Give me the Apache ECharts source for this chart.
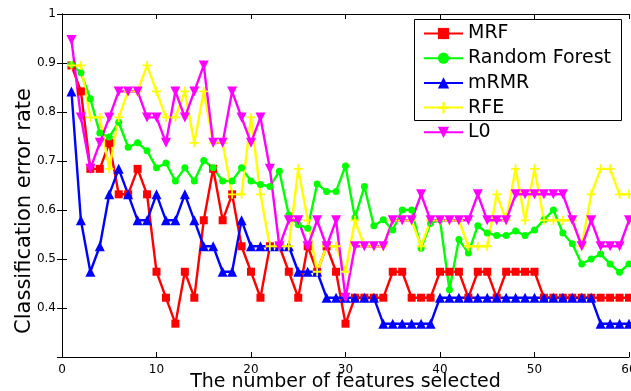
<!DOCTYPE html>
<html>
<head>
<meta charset="utf-8">
<script src="https://cdn.jsdelivr.net/npm/echarts@6/dist/echarts.min.js"></script>
<style>html,body{margin:0;padding:0;background:#fff}#c{width:631px;height:391px}</style>
</head>
<body>
<div id="c"></div>
<script>
var features = [1,2,3,4,5,6,7,8,9,10,11,12,13,14,15,16,17,18,19,20,21,22,23,24,25,26,27,28,29,30,31,32,33,34,35,36,37,38,39,40,41,42,43,44,45,46,47,48,49,50,51,52,53,54,55,56,57,58,59,60];
var mrf = [0.895,0.842,0.684,0.684,0.737,0.632,0.632,0.684,0.632,0.474,
  0.421,0.368,0.474,0.421,0.579,0.684,0.579,0.632,0.526,0.474,
  0.421,0.526,0.526,0.474,0.421,0.526,0.474,0.526,0.474,0.368,
  0.421,0.421,0.421,0.421,0.474,0.474,0.421,0.421,0.421,0.474,
  0.474,0.474,0.421,0.474,0.474,0.421,0.474,0.474,0.474,0.474,
  0.421,0.421,0.421,0.421,0.421,0.421,0.421,0.421,0.421,0.421];
var randomForest = [0.897,0.88,0.827,0.757,0.749,0.779,0.728,0.737,0.721,0.686,
  0.696,0.659,0.686,0.659,0.701,0.686,0.659,0.659,0.686,0.659,
  0.652,0.648,0.679,0.59,0.57,0.563,0.653,0.638,0.638,0.69,
  0.584,0.648,0.568,0.58,0.559,0.60,0.60,0.522,0.573,0.58,
  0.437,0.54,0.512,0.568,0.553,0.548,0.548,0.557,0.548,0.559,
  0.58,0.60,0.553,0.531,0.49,0.50,0.51,0.49,0.473,0.49];
var mrmr = [0.842,0.579,0.474,0.526,0.632,0.684,0.632,0.579,0.579,0.632,
  0.579,0.579,0.632,0.579,0.526,0.526,0.474,0.474,0.579,0.526,
  0.526,0.526,0.526,0.526,0.474,0.474,0.474,0.421,0.421,0.421,
  0.421,0.421,0.421,0.368,0.368,0.368,0.368,0.368,0.368,0.421,
  0.421,0.421,0.421,0.421,0.421,0.421,0.421,0.421,0.421,0.421,
  0.421,0.421,0.421,0.421,0.421,0.421,0.368,0.368,0.368,0.368];
var rfe = [0.895,0.895,0.789,0.789,0.684,0.789,0.842,0.842,0.895,0.842,
  0.789,0.789,0.842,0.737,0.842,0.737,0.737,0.632,0.632,0.789,
  0.632,0.526,0.526,0.526,0.684,0.579,0.474,0.526,0.526,0.474,
  0.579,0.526,0.526,0.526,0.579,0.579,0.579,0.526,0.579,0.579,
  0.579,0.579,0.526,0.526,0.526,0.632,0.579,0.684,0.579,0.684,
  0.579,0.579,0.579,0.579,0.526,0.632,0.684,0.684,0.632,0.632];
var l0 = [0.947,0.789,0.684,0.737,0.789,0.842,0.842,0.842,0.789,0.789,
  0.737,0.842,0.789,0.842,0.895,0.737,0.737,0.842,0.789,0.737,
  0.789,0.684,0.526,0.579,0.579,0.526,0.579,0.526,0.579,0.421,
  0.526,0.526,0.526,0.526,0.579,0.579,0.579,0.632,0.579,0.579,
  0.579,0.579,0.579,0.632,0.579,0.579,0.579,0.632,0.632,0.632,
  0.632,0.632,0.632,0.579,0.526,0.579,0.526,0.526,0.526,0.579];
var seriesNames = ['MRF','Random Forest','mRMR','RFE','L0'];
var xTitle = 'The number of features selected';
var yTitle = 'Classification error rate';

var FONT = 'DejaVu Sans';
function pairs(vals){ return features.map(function(f,i){ return [f, vals[i]]; }); }
var plusPath = 'path://M4,0H6V4H10V6H6V10H4V6H0V4H4Z';
function mk(name, vals, color, symbol, size, rot){
  return {
    name: name, type: 'line', data: pairs(vals),
    symbol: symbol, symbolSize: size, symbolRotate: rot || 0,
    showAllSymbol: true,
    lineStyle: {color: color, width: 2.4},
    itemStyle: {color: color, borderWidth: 0},
    emphasis: {disabled: true},
    animation: false
  };
}
var chart = echarts.init(document.getElementById('c'));
var tickStyle = {inside: true, length: 5, lineStyle: {color: '#000', width: 1}};
chart.setOption({
  backgroundColor: '#fff',
  animation: false,
  grid: {left: 62, right: 2, top: 14, bottom: 34, containLabel: false, outerBoundsMode: 'none'},
  xAxis: [{
    type: 'value', min: 0, max: 60, interval: 10,
    name: xTitle, nameLocation: 'middle', nameGap: 16, nameMoveOverlap: false,
    nameTextStyle: {fontFamily: FONT, fontSize: 19, color: '#000'},
    axisLine: {show: true, lineStyle: {color: '#000', width: 1}},
    axisTick: tickStyle,
    axisLabel: {fontFamily: FONT, fontSize: 12, color: '#000', margin: 7},
    splitLine: {show: false}
  }, {
    type: 'value', min: 0, max: 60, interval: 10, position: 'top',
    axisLine: {show: true, lineStyle: {color: '#000', width: 1}},
    axisTick: tickStyle, axisLabel: {show: false}, splitLine: {show: false}
  }],
  yAxis: [{
    type: 'value', min: 0.3, max: 1.0, interval: 0.1,
    axisLine: {show: true, lineStyle: {color: '#000', width: 1}},
    axisTick: tickStyle,
    axisLabel: {fontFamily: FONT, fontSize: 12, color: '#000', margin: 6,
      formatter: function(v){ return v < 0.35 ? '' : String(Math.round(v*10)/10); }},
    splitLine: {show: false}
  }, {
    type: 'value', min: 0.3, max: 1.0, interval: 0.1, position: 'right',
    axisLine: {show: true, lineStyle: {color: '#000', width: 1}},
    axisTick: tickStyle, axisLabel: {show: false}, splitLine: {show: false}
  }],
  legend: {
    orient: 'vertical', left: 423, top: 24, padding: 0,
    itemWidth: 39, itemHeight: 14, itemGap: 5.7,
    data: seriesNames,
    textStyle: {fontFamily: FONT, fontSize: 19, color: '#000', lineHeight: 14},
    z: 5
  },
  graphic: [
    {type: 'rect', z: 4, shape: {x: 414.5, y: 19.5, width: 207, height: 101},
      style: {fill: '#fff', stroke: '#000', lineWidth: 1}},
    {type: 'text', z: 5, x: 25, y: 211, rotation: Math.PI/2,
      style: {text: yTitle, fontFamily: FONT, fontSize: 21, fill: '#000',
        textAlign: 'center', textVerticalAlign: 'middle'}}
  ],
  series: [
    mk(seriesNames[0], mrf, '#ff0000', 'rect', 8),
    mk(seriesNames[1], randomForest, '#00ff00', 'circle', 7),
    mk(seriesNames[2], mrmr, '#0000ff', 'triangle', 10),
    mk(seriesNames[3], rfe, '#ffff00', plusPath, 9),
    mk(seriesNames[4], l0, '#ff00ff', 'triangle', 10, 180)
  ]
});
</script>
</body>
</html>
